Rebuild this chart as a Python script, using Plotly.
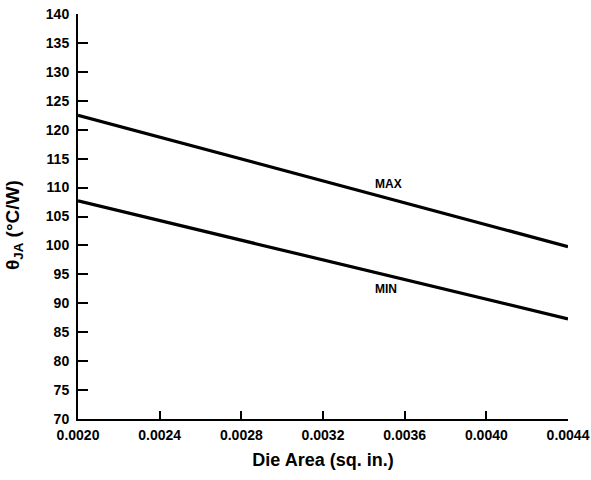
import plotly.graph_objects as go

die_area = [0.0020, 0.0024, 0.0028, 0.0032, 0.0036, 0.0040, 0.0044]
theta_max = [122.5, 118.7, 114.9, 111.2, 107.4, 103.6, 99.8]
theta_min = [107.7, 104.3, 100.9, 97.5, 94.1, 90.7, 87.3]
x_ticks = [0.0020, 0.0024, 0.0028, 0.0032, 0.0036, 0.0040, 0.0044]
x_tick_labels = ["0.0020", "0.0024", "0.0028", "0.0032", "0.0036", "0.0040", "0.0044"]
y_ticks = list(range(70, 141, 5))
series_labels = [("MAX", 0.00352, 110.6), ("MIN", 0.00351, 92.5)]
y_title = "θ<sub>JA</sub> (°C/W)"
x_title = "Die Area (sq. in.)"

FONT = "Liberation Sans, Arial, Helvetica, sans-serif"

fig = go.Figure()
fig.add_trace(go.Scatter(x=die_area, y=theta_max, mode="lines",
                         line=dict(color="black", width=3.2), name="MAX", showlegend=False))
fig.add_trace(go.Scatter(x=die_area, y=theta_min, mode="lines",
                         line=dict(color="black", width=3.2), name="MIN", showlegend=False))

for text, xv, yv in series_labels:
    fig.add_annotation(x=xv, y=yv, text=text, showarrow=False,
                       font=dict(family=FONT, size=12, color="black", weight="bold"))

# y-axis title as annotation so it can sit slightly below the plot centre, as in the reference
fig.add_annotation(x=-0.1306, y=0.479, xref="paper", yref="paper", text=y_title,
                   textangle=-90, showarrow=False, xanchor="center", yanchor="middle",
                   font=dict(family=FONT, size=19, color="black", weight="bold"))

fig.update_layout(
    width=591, height=480,
    margin=dict(l=78, r=23, t=14, b=61),
    paper_bgcolor="white", plot_bgcolor="white",
    font=dict(family=FONT, color="black"),
    xaxis=dict(
        range=[0.0020, 0.0044], tickvals=x_ticks, ticktext=x_tick_labels,
        automargin=False,
        showgrid=False, zeroline=False, showline=True, linecolor="black", linewidth=2,
        ticks="inside", ticklen=8, tickwidth=1.5, tickcolor="black",
        ticklabelstandoff=2,
        tickfont=dict(family=FONT, size=14, weight="bold"),
        title=dict(text=x_title, standoff=12,
                   font=dict(family=FONT, size=18, weight="bold")),
    ),
    yaxis=dict(
        range=[70, 140], tickvals=y_ticks,
        automargin=False,
        showgrid=False, zeroline=False, showline=True, linecolor="black", linewidth=2,
        ticks="inside", ticklen=10, tickwidth=1.5, tickcolor="black",
        ticklabelstandoff=4,
        tickfont=dict(family=FONT, size=14, weight="bold"),
    ),
)

fig.write_html("out.html", config={"displayModeBar": False},
               post_script="document.body.style.margin='0';")
